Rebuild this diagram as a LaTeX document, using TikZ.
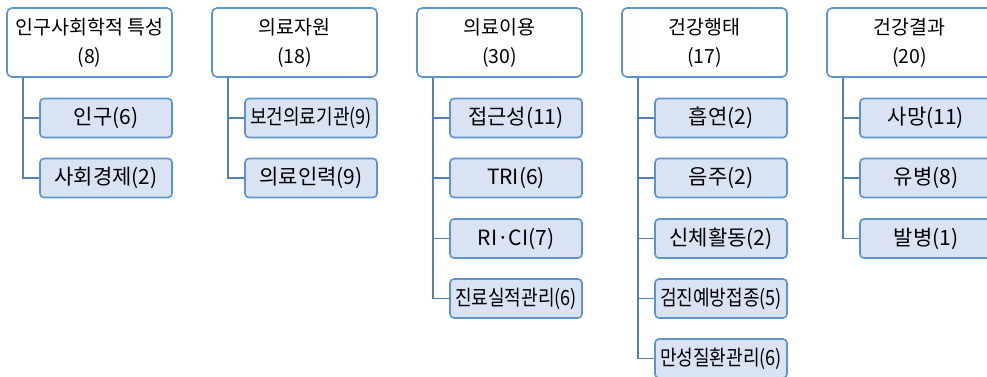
\documentclass[tikz,border=0pt]{standalone}
\usepackage{fontspec}
\setmainfont{Noto Sans CJK KR}
\usetikzlibrary{positioning}
\definecolor{boxline}{RGB}{91,148,208}
\definecolor{linkline}{RGB}{79,129,189}
\definecolor{boxfill}{RGB}{218,227,243}
\newcommand{\squeeze}[1]{\scalebox{0.86}[1]{#1}}
\tikzset{
every picture/.style={
line width=1.6pt
}}

\begin{document}
\begin{tikzpicture}[x=1pt, y=-1pt,
head/.style = {rectangle, rounded corners=5pt, draw=boxline, fill=white, minimum width=165pt, minimum height=69pt, align=center, font=\fontsize{19.5}{29}\selectfont},
item/.style = {rectangle, rounded corners=4pt, draw=boxline, fill=boxfill, minimum width=132pt, minimum height=39pt, inner xsep=1pt, font=\fontsize{21}{22}\selectfont},
link/.style = {draw=linkline}]

\useasboundingbox (0,0) rectangle (987,376);

\node [head] at (89.5,42.5) (h1) {인구사회학적 특성\\(8)};
\node [head] at (294.5,42.5) (h2) {의료자원\\(18)};
\node [head] at (499.5,42.5) (h3) {의료이용\\(30)};
\node [head] at (704.5,42.5) (h4) {건강행태\\(17)};
\node [head] at (909.5,42.5) (h5) {건강결과\\(20)};

\node [item] at (106,118) (d1) {인구(6)};
\node [item] at (106,178) (d2) {사회경제(2)};

\node [item] at (311,118) (r1) {\squeeze{보건의료기관(9)}};
\node [item] at (311,178) (r2) {의료인력(9)};

\node [item] at (516,118) (u1) {접근성(11)};
\node [item] at (516,178) (u2) {TRI(6)};
\node [item] at (516,238.5) (u3) {RI·CI(7)};
\node [item] at (516,298.5) (u4) {\squeeze{진료실적관리(6)}};

\node [item] at (721,118) (b1) {흡연(2)};
\node [item] at (721,178) (b2) {음주(2)};
\node [item] at (721,238.5) (b3) {신체활동(2)};
\node [item] at (721,298.5) (b4) {\squeeze{검진예방접종(5)}};
\node [item] at (721,358.5) (b5) {\squeeze{만성질환관리(6)}};

\node [item] at (926,118) (o1) {사망(11)};
\node [item] at (926,178) (o2) {유병(8)};
\node [item] at (926,238.5) (o3) {발병(1)};

\draw[link] ([xshift=17pt]h1.south west) |- (d2.west);
\draw[link] ([xshift=17pt]h1.south west) |- (d1.west);

\draw[link] ([xshift=17pt]h2.south west) |- (r2.west);
\draw[link] ([xshift=17pt]h2.south west) |- (r1.west);

\draw[link] ([xshift=17pt]h3.south west) |- (u4.west);
\draw[link] ([xshift=17pt]h3.south west) |- (u3.west);
\draw[link] ([xshift=17pt]h3.south west) |- (u2.west);
\draw[link] ([xshift=17pt]h3.south west) |- (u1.west);

\draw[link] ([xshift=17pt]h4.south west) |- (b5.west);
\draw[link] ([xshift=17pt]h4.south west) |- (b4.west);
\draw[link] ([xshift=17pt]h4.south west) |- (b3.west);
\draw[link] ([xshift=17pt]h4.south west) |- (b2.west);
\draw[link] ([xshift=17pt]h4.south west) |- (b1.west);

\draw[link] ([xshift=17pt]h5.south west) |- (o3.west);
\draw[link] ([xshift=17pt]h5.south west) |- (o2.west);
\draw[link] ([xshift=17pt]h5.south west) |- (o1.west);

\end{tikzpicture}
\end{document}
